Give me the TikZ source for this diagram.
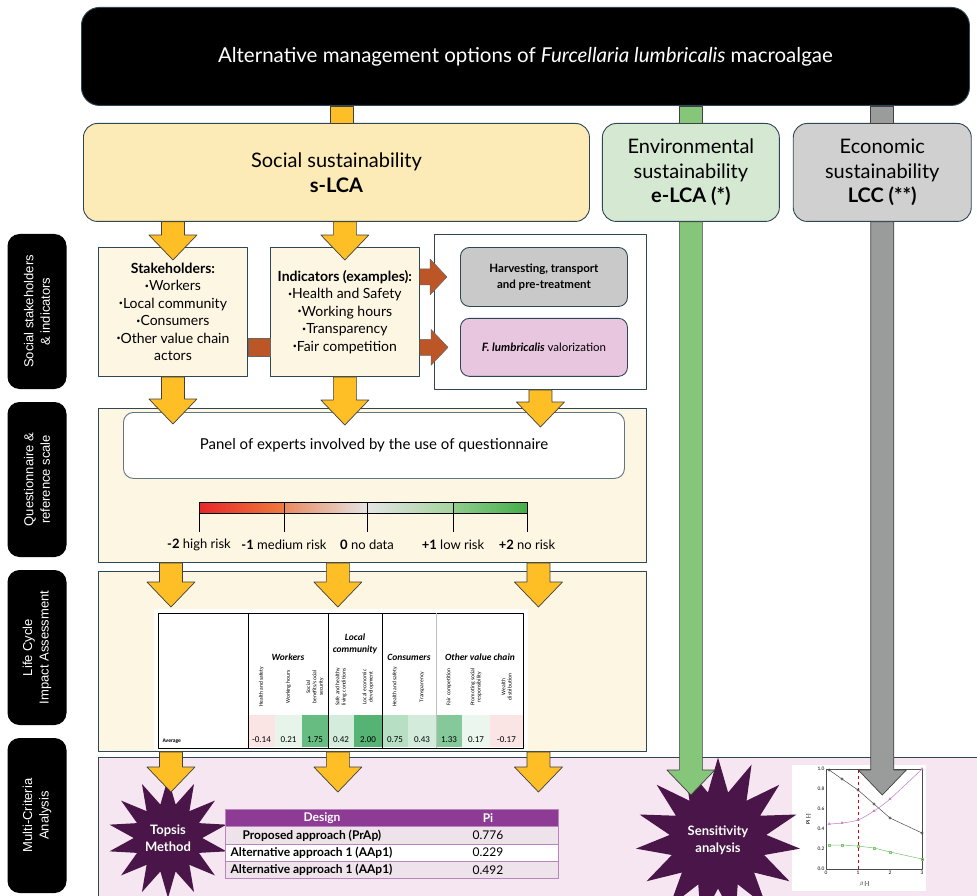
\documentclass[tikz,border=0pt]{standalone}
\usepackage{fontspec}
\setmainfont{Lato}
\newfontfamily\arialfont{Liberation Sans}
\newfontfamily\calfont{Carlito}
\usetikzlibrary{positioning,calc,shapes.geometric,plotmarks}
\definecolor{edge}{HTML}{2F4754}
\definecolor{cream}{HTML}{FDF6E3}
\definecolor{socfill}{HTML}{FCEBB6}
\definecolor{envfill}{HTML}{D5E8D2}
\definecolor{ecofill}{HTML}{D0D0D0}
\definecolor{ylw}{HTML}{FDBE26}
\definecolor{grnarr}{HTML}{85C67A}
\definecolor{gryarr}{HTML}{9A9C9C}
\definecolor{brn}{HTML}{BD5627}
\definecolor{hvfill}{HTML}{C8C9C8}
\definecolor{flfill}{HTML}{E8C6DF}
\definecolor{mcafill}{HTML}{F6E6F1}
\definecolor{starc}{HTML}{4A1548}
\definecolor{tabhead}{HTML}{8E3B96}
\definecolor{tabrow}{HTML}{EEE3EB}
\definecolor{tabline}{HTML}{B985BD}
\definecolor{tcgreen}{HTML}{4CB06C}
\definecolor{tcred}{HTML}{F2A7A7}
\definecolor{scred}{HTML}{E8262A}
\definecolor{scorange}{HTML}{EE7B3C}
\definecolor{scpeach}{HTML}{E9895F}
\definecolor{scgrey}{HTML}{E4E4E4}
\definecolor{sclgreen}{HTML}{A5D49E}
\definecolor{scgreen}{HTML}{43AE48}
\definecolor{chpurple}{HTML}{C27AC7}
\definecolor{chgreen}{HTML}{7DC36F}
\newcommand\fsz[2]{\fontsize{#1}{#2}\selectfont}
\newcommand\bul{\raisebox{0.35ex}{\fsz{7}{7}•}}
\newcommand\dnarrow[3][ylwarrow]{%
  \draw[#1] let \p1=#2, \p2=#3 in
    (\x1-11.5pt,\y1) -- (\x1-11.5pt,\y2+25pt) -- (\x1-24pt,\y2+25pt) -- (\x1,\y2)
    -- (\x1+24pt,\y2+25pt) -- (\x1+11.5pt,\y2+25pt) -- (\x1+11.5pt,\y1) -- cycle;}
\newcommand\rtarrow[2]{%
  \draw[brnarrow] let \p1=#1, \p2=#2 in
    (\x1,\y1-8pt) -- (\x2-17pt,\y1-8pt) -- (\x2-17pt,\y1-18pt) -- (\x2,\y1)
    -- (\x2-17pt,\y1+18pt) -- (\x2-17pt,\y1+8pt) -- (\x1,\y1+8pt) -- cycle;}

\begin{document}
\begin{tikzpicture}[x=1pt,y=-1pt,font=\fsz{14}{17.5},line join=round]
  \tikzstyle{box}=[draw=edge,line width=0.9pt,inner sep=0pt,align=center,anchor=north west]
  \tikzstyle{panel}=[box,fill=cream]
  \tikzstyle{tag}=[fill=black,text=white,rounded corners=12,rotate=90,minimum width=155,minimum height=59,align=center,inner sep=0pt,font=\arialfont\fsz{13}{16.5}]
  \tikzstyle{ylwarrow}=[fill=ylw,draw=black!75,line width=0.7pt]
  \tikzstyle{grnarrow}=[fill=grnarr,draw=black!75,line width=0.7pt]
  \tikzstyle{gryarrow}=[fill=gryarr,draw=black!75,line width=0.7pt]
  \tikzstyle{brnarrow}=[fill=brn,draw=black!60,line width=0.5pt]
  \tikzstyle{burst}=[star,fill=starc,text=white,inner sep=0pt,align=center,font=\bfseries\fsz{13}{17}]
  \tikzstyle{trow}=[draw=tabline,line width=0.8pt,minimum width=333,minimum height=17.3,anchor=north west,inner sep=0pt]
  \useasboundingbox (0,0) rectangle (977,896);
  \clip (0,0) rectangle (977,896);

  \foreach \t/\y [count=\i] in {{Social stakeholders\\\& indicators}/311.5,{Questionnaire \&\\reference scale}/479.5,{Life Cycle\\Impact Assessment}/647.5,{Multi-Criteria\\Analysis}/815.5}
    \node[tag] (s\i) at (37,\y) {\t};

  \node[box,fill=black,rounded corners=18,minimum width=888,minimum height=98,text=white,font=\fsz{20.5}{24}] (top) at (81,7) {Alternative management options of \textit{Furcellaria lumbricalis} macroalgae};
  \node[box,fill=socfill,rounded corners=14,minimum width=506,minimum height=98,font=\fsz{20}{25}] (soc) at (83,123) {Social sustainability\\\textbf{s-LCA}};
  \node[box,fill=envfill,rounded corners=14,minimum width=177,minimum height=98,font=\fsz{20}{24.5},right=12pt of soc] (env) {Environmental\\sustainability\\\textbf{e-LCA (*)}};
  \node[box,fill=ecofill,rounded corners=14,minimum width=178,minimum height=98,font=\fsz{20}{24.5},right=13pt of env] (eco) {Economic\\sustainability\\\textbf{LCC (**)}};
  \draw[ylwarrow] ($(top.south -| soc)+(-6.5,0)$) rectangle ($(soc.north)+(16.5,0)$);
  \draw[grnarrow] ($(top.south -| env)+(-11.5,0)$) rectangle ($(env.north)+(11.5,0)$);
  \draw[gryarrow] ($(top.south -| eco)+(-11.5,0)$) rectangle ($(eco.north)+(11.5,0)$);

  \node[panel,minimum width=149,minimum height=129] (stk) at (98,247) {\textbf{Stakeholders:}\\\bul Workers\\\bul Local community\\\bul Consumers\\\bul Other value chain\\actors};
  \node[panel,minimum width=149,minimum height=129,right=22pt of stk] (ind) {\textbf{Indicators (examples):}\\\bul Health and Safety\\\bul Working hours\\\bul Transparency\\\bul Fair competition};
  \node[box,fill=white,minimum width=212,minimum height=155] (wb) at (434,234) {};
  \node[box,fill=hvfill,rounded corners=9,minimum width=167,minimum height=59,font=\bfseries\fsz{11.5}{16}] (hv) at (460,247) {Harvesting, transport\\and pre-treatment};
  \node[box,fill=flfill,rounded corners=9,minimum width=167,minimum height=58,font=\bfseries\fsz{11.5}{16},below=11pt of hv] (fl) {\textit{F. lumbricalis} \mdseries valorization};
  \draw[brnarrow] ($(stk.east |- fl)+(0,-9)$) rectangle ($(ind.west |- fl)+(0,9)$);
  \rtarrow{(ind.east |- hv)}{($(hv.west)+(-13,0)$)}
  \rtarrow{(ind.east |- fl)}{($(fl.west)+(-12,0)$)}

  \node[panel,minimum width=548,minimum height=154] (qp) at (98,408) {};
  \node[box,draw=edge!75,fill=white,rounded corners=10,minimum width=501,minimum height=66,font=\fsz{15}{18}] (pe) at (123,412) {Panel of experts involved by the use of questionnaire};
  \shade[left color=scred,right color=scorange] (199,502) rectangle (284,513);
  \shade[left color=scpeach,right color=scgrey] (284,502) rectangle (367,513);
  \shade[left color=scgrey,right color=sclgreen] (367,502) rectangle (453,513);
  \shade[left color=sclgreen!80!scgreen,right color=scgreen] (453,502) rectangle (527,513);
  \draw[line width=1pt] (199,502) rectangle (527,513);
  \foreach \x/\l [count=\i] in {199/{\textbf{-2} high risk},284/{\textbf{-1} medium risk},367/{\textbf{0} no data},453/{\textbf{+1} low risk},527/{\textbf{+2} no risk}} {
    \draw[line width=1pt] (\x,502) -- (\x,532);
    \node[font=\fsz{13}{15}] (k\i) at (\x,545) {\l};
  }

  \node[panel,minimum width=548,minimum height=180] (lp) at (98,571) {};
  \fill[white] (154,609) rectangle (528,750);
  \foreach \xa/\xb/\v/\c/\t [count=\i] in {
      248/275/-0.14/tcred!30/{Health and safety},
      275/302/0.21/tcgreen!14/{Working hours},
      302/328/1.75/tcgreen!85/{Social\\benefits/social\\security},
      328/354/0.42/tcgreen!24/{Safe and healthy\\living conditions},
      354/382/2.00/tcgreen!95/{Local economic\\development},
      382/408/0.75/tcgreen!40/{Health and safety},
      408/436/0.43/tcgreen!25/{Transparency},
      436/462/1.33/tcgreen!68/{Fair competition},
      462/490/0.17/tcgreen!11/{Promoting social\\responsibility},
      490/523/-0.17/tcred!30/{Wealth\\distribution}} {
    \fill[\c] (\xa,715) rectangle (\xb,747);
    \node[font=\calfont\fsz{9}{10}] (v\i) at ({(\xa+\xb)/2},740) {\v};
    \node[rotate=90,align=center,font=\calfont\fsz{5.6}{6.3}] (h\i) at ({(\xa+\xb)/2},687) {\t};
  }
  \draw[line width=0.7pt] (158,613) rectangle (523,748);
  \foreach \x in {248,328,382} \draw[line width=1pt] (\x,613) -- (\x,748);
  \draw[black!25,line width=1pt] (436,613) -- (436,748);
  \node[font=\calfont\bfseries\itshape\fsz{9.5}{12}] (gw) at (288,657) {Workers};
  \node[font=\calfont\bfseries\itshape\fsz{9.5}{12},align=center] (gl) at (355,644) {Local\\community};
  \node[font=\calfont\bfseries\itshape\fsz{9.5}{12}] (gc) at (409,657) {Consumers};
  \node[font=\calfont\bfseries\itshape\fsz{9.5}{12}] (go) at (480,657) {Other value chain};
  \node[anchor=west,font=\calfont\bfseries\fsz{5.5}{6}] (avg) at (159,741) {Average};

  \node[box,fill=mcafill,minimum width=900,minimum height=160] (mp) at (98,757) {};
  \fill[white] (792,765) rectangle (926,891);
  \begin{scope}[shift={(826,869)},x=32pt,y=100pt,font=\fsz{4.8}{5}]
    \draw[red!85!black,dashed,line width=0.5pt] (1,0) -- (1,1);
    \draw[black!70,line width=0.6pt] (0,0) rectangle (3,1);
    \foreach \t [count=\i] in {0.0,0.2,0.4,0.6,0.8,1.0} \node[left,inner sep=1.5pt] (yt\i) at (0,\t) {\t};
    \foreach \t [count=\i] in {0,1,2,3} \node[below,inner sep=2pt] (xt\i) at (\t,0) {\t};
    \node[rotate=90,font=\bfseries\fsz{4.8}{5}] (yl) at (-0.55,0.5) {Pi [-]};
    \node[font=\bfseries\fsz{4.8}{5}] (xl) at (1.2,-0.15) {$\beta$ [-]};
    \draw[black!70,line width=0.5pt,mark=o,mark size=1.2pt] plot coordinates {(0.1,0.99) (0.5,0.9) (1,0.79) (1.5,0.65) (2,0.51) (3,0.36)};
    \draw[chpurple,line width=0.5pt,mark=triangle,mark size=1.4pt] plot[smooth] coordinates {(0.1,0.45) (0.5,0.46) (1,0.49) (1.5,0.58) (2,0.7) (3,1)};
    \draw[chgreen,line width=0.5pt,mark=square,mark size=1.2pt] plot coordinates {(0.1,0.24) (0.5,0.24) (1,0.23) (1.5,0.21) (2,0.17) (3,0.1)};
  \end{scope}

  \node[burst,star points=14,star point ratio=1.75,minimum size=120] (tps) at (168,838) {Topsis\\Method};
  \node[burst,star points=15,star point ratio=1.7,minimum size=165] (sen) at (718,840) {Sensitivity\\analysis};

  \dnarrow{(soc.south -| stk)}{($(stk.north)+(0,13)$)}
  \dnarrow{(soc.south -| ind)}{($(ind.north)+(0,13)$)}
  \dnarrow{(stk.south)}{($(qp.north -| stk)+(0,16)$)}
  \dnarrow{(ind.south)}{($(qp.north -| ind)+(0,17)$)}
  \dnarrow{(wb.south)}{($(qp.north -| wb)+(0,19)$)}
  \foreach \cl/\dx in {stk/-2,ind/-7,wb/-2} {
    \dnarrow{($(qp.south -| \cl)+(\dx,0)$)}{($(lp.north -| \cl)+(\dx,36)$)}
    \dnarrow{($(lp.south -| \cl)+(\dx,0)$)}{($(mp.north -| \cl)+(\dx,35)$)}
  }
  \dnarrow[grnarrow]{(env.south)}{($(mp.north -| env)+(0,38)$)}
  \dnarrow[gryarrow]{(eco.south)}{($(mp.north -| eco)+(0,38)$)}

  \node[trow,fill=tabhead] (th) at (225,809) {};
  \node[font=\bfseries\fsz{12}{14},text=white] (thd) at ([xshift=97pt]th.west) {Design};
  \node[font=\bfseries\fsz{12}{14},text=white] (thp) at ([xshift=263pt]th.west) {Pi};
  \foreach \t/\v/\c/\d [count=\i] in {Proposed approach (PrAp)/0.776/tabrow/14,Alternative approach 1 (AAp1)/0.229/white/2,Alternative approach 1 (AAp1)/0.492/tabrow/2} {
    \node[trow,fill=\c] (tr\i) at (225,{809+17.3*\i}) {};
    \node[anchor=west,font=\bfseries\fsz{12}{14}] (tn\i) at ([xshift=\d pt]tr\i.west) {\t};
    \node[font=\fsz{12}{14}] (tv\i) at ([xshift=263pt]tr\i.west) {\v};
  }
\end{tikzpicture}
\end{document}
